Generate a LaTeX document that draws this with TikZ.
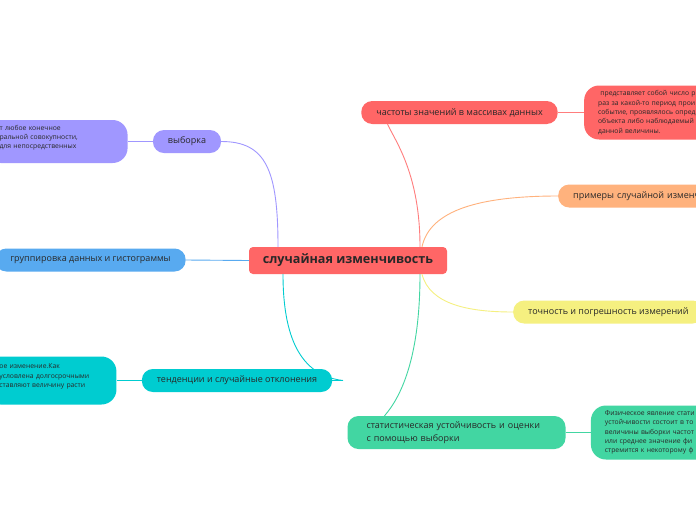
\documentclass[tikz,border=0pt]{standalone}
\usepackage{fontspec}
\setmainfont{Open Sans}
\usepackage{xcolor}
\usetikzlibrary{positioning}

\definecolor{rootred}{RGB}{255,102,102}
\definecolor{mmpurple}{RGB}{160,151,255}
\definecolor{mmblue}{RGB}{88,170,240}
\definecolor{mmteal}{RGB}{0,204,208}
\definecolor{mmgreen}{RGB}{66,214,162}
\definecolor{mmyellow}{RGB}{245,240,128}
\definecolor{mmorange}{RGB}{255,178,125}
\definecolor{ink}{RGB}{40,40,40}

\begin{document}
\begin{tikzpicture}[
    x=1pt, y=-1pt,
    node distance=25pt,
    root/.style={rectangle, rounded corners=4pt, fill=rootred, minimum width=198pt, minimum height=27pt, font=\fontsize{12.6}{14}\selectfont\bfseries, text=ink},
    topic/.style={rectangle, rounded corners=11pt, minimum height=23pt, inner xsep=15pt, font=\fontsize{9}{12.5}\selectfont, text=ink},
    note/.style={rectangle, rounded corners=15pt, inner xsep=14pt, align=left, font=\fontsize{6.8}{9.4}\selectfont, text=ink},
    link/.style={line width=0.9pt}
]
\useasboundingbox (0,0) rectangle (696,520);
\fill[white] (0,0) rectangle (696,520);
\clip (0,0) rectangle (696,520);
% Central topic
\node[root] (root) at (348,260.5) {случайная изменчивость};
% Right branches
\node[topic, fill=rootred, minimum width=195pt] (freq) at (459.5,112.5) {частоты значений в массивах данных};
\node[note, fill=rootred, text width=120pt, minimum height=54pt, right=26pt of freq] (freqnote) {\ представляет собой число р\\раз за какой-то период прои\\событие, проявлялось опред\\объекта либо наблюдаемый\\данной величины.};
\node[topic, fill=mmorange, anchor=west, text width=150pt, align=left] (examples) at (558,196) {примеры случайной изменч};
\node[topic, fill=mmyellow, anchor=west] (precision) at (513,312) {точность и погрешность измерений};
\node[topic, fill=mmgreen, minimum height=33pt, inner xsep=19pt, text width=180pt, align=left] (stat) at (456.5,432.5) {статистическая устойчивость и оценки\\с помощью выборки};
\node[note, fill=mmgreen, text width=120pt, minimum height=54pt, right=of stat] (statnote) {Физическое явление стати\\устойчивости состоит в то\\величины выборки частот\\или среднее значение фи\\стремится к некоторому ф};
% Left branches
\node[topic, fill=mmpurple] (sample) at (187,141.5) {выборка};
\node[note, fill=mmpurple, text width=114pt, minimum height=43pt, left=of sample] (samplenote) {т любое конечное\\ральной совокупности,\\для непосредственных\\~};
\node[topic, fill=mmblue, minimum width=189pt] (group) at (90.5,260) {группировка данных и гистограммы};
\node[topic, fill=mmteal, minimum width=190pt] (trend) at (237,380.5) {тенденции и случайные отклонения};
\node[note, fill=mmteal, text width=103pt, minimum height=48pt, left=of trend] (trendnote) {ое изменение.Как\\условлена долгосрочными\\ставляют величину расти\\~};
\coordinate (trendend) at (343,380.5);
% Connectors from the central topic
\draw[link, rootred!85] ([xshift=72pt]root.north) .. controls (420,175) and (396,142) .. ([xshift=-72pt]freq.south);
\draw[link, mmorange] ([xshift=74pt]root.north) .. controls (430,210) and (480,196) .. (examples.west);
\draw[link, mmyellow] ([xshift=74pt]root.south) .. controls (430,305) and (470,312) .. (precision.west);
\draw[link, mmgreen] ([xshift=72pt]root.south) .. controls (420,360) and (400,398) .. ([xshift=-72pt]stat.north);
\draw[link, mmpurple] ([xshift=-70pt]root.north) .. controls (278,170) and (266,141.5) .. (sample.east);
\draw[link, mmblue] (group.east) -- (root.west);
\draw[link, mmteal] ([xshift=-65pt]root.south) .. controls (283,345) and (305,376) .. (trendend);
\draw[link, mmteal] (trend.east) -- (trendend);
% Connectors to the notes
\draw[link, rootred!85] (freq.east) -- (freqnote.west);
\draw[link, mmgreen] (stat.east) -- (statnote.west);
\draw[link, mmpurple] (sample.west) -- (samplenote.east);
\draw[link, mmteal] (trend.west) -- (trendnote.east);
\end{tikzpicture}
\end{document}
